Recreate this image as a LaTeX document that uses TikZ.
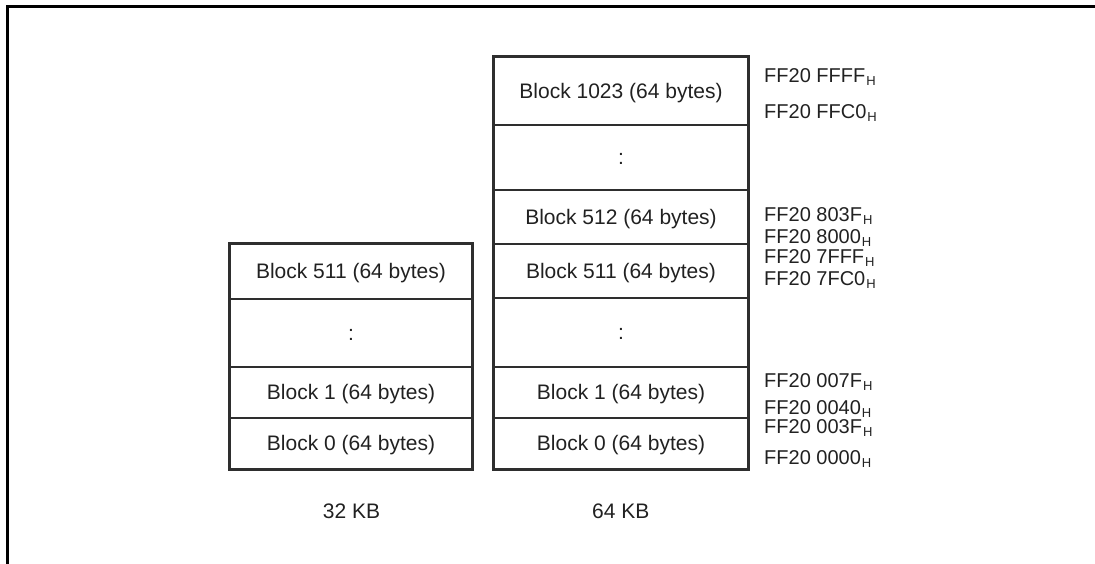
\documentclass[tikz,border=0pt]{standalone}
\usepackage{fontspec}
\setmainfont{Liberation Sans}
\definecolor{ink}{gray}{0.13}
\definecolor{lineink}{gray}{0.18}
\newcommand{\hexaddr}[1]{#1\kern1pt\raisebox{-3pt}{\fontsize{13}{13}\selectfont H}}
\begin{document}
\begin{tikzpicture}[x=1pt,y=-1pt,
  cell/.style={draw=lineink, line width=1.3pt, rectangle, inner sep=0pt,
    text height=14.6pt, text depth=0pt,
    font=\fontsize{21}{25}\selectfont, text=ink},
  rcell/.style={cell, minimum width=254pt},
  lcell/.style={cell, minimum width=242pt},
  outerbox/.style={draw=lineink, line width=2.5pt},
  addr/.style={anchor=base west, inner sep=0pt, text=ink, font=\fontsize{20}{24}\selectfont},
  sizelabel/.style={anchor=base, inner sep=0pt, text=ink, font=\fontsize{21}{25}\selectfont},
  framestyle/.style={draw=black, line width=3pt}]
\useasboundingbox (0,0) rectangle (1095,564);
% frame
\coordinate (ftl) at (7,7);
\coordinate (ftr) at (1096,7);
\coordinate (fbl) at (7,565);
\draw[framestyle] (ftr) -- (ftl) -- (fbl);
% right (64 KB) column
\node[rcell, minimum height=68pt] (r1023) at (621,91) {Block 1023 (64 bytes)};
\node[rcell, minimum height=65pt] (rdots1) at (621,157.5) {:};
\node[rcell, minimum height=54pt] (r512) at (621,217) {Block 512 (64 bytes)};
\node[rcell, minimum height=54pt] (r511) at (621,271) {Block 511 (64 bytes)};
\node[rcell, minimum height=69pt] (rdots2) at (621,332.5) {:};
\node[rcell, minimum height=51pt] (r1) at (621,392.5) {Block 1 (64 bytes)};
\node[rcell, minimum height=51pt] (r0) at (621,443.5) {Block 0 (64 bytes)};
\draw[outerbox] (r1023.north west) rectangle (r0.south east);
% left (32 KB) column
\node[lcell, minimum height=55pt] (l511) at (351,271.5) {Block 511 (64 bytes)};
\node[lcell, minimum height=68pt] (ldots) at (351,333) {:};
\node[lcell, minimum height=51pt] (l1) at (351,392.5) {Block 1 (64 bytes)};
\node[lcell, minimum height=51pt] (l0) at (351,443.5) {Block 0 (64 bytes)};
\draw[outerbox] (l511.north west) rectangle (l0.south east);
% addresses
\node[addr] (aFFFF) at (764,82.3) {\hexaddr{FF20 FFFF}};
\node[addr] (aFFC0) at (764,119) {\hexaddr{FF20 FFC0}};
\node[addr] (a803F) at (764,221.7) {\hexaddr{FF20 803F}};
\node[addr] (a8000) at (764,243.3) {\hexaddr{FF20 8000}};
\node[addr] (a7FFF) at (764,263.5) {\hexaddr{FF20 7FFF}};
\node[addr] (a7FC0) at (764,285) {\hexaddr{FF20 7FC0}};
\node[addr] (a007F) at (764,387.3) {\hexaddr{FF20 007F}};
\node[addr] (a0040) at (764,414) {\hexaddr{FF20 0040}};
\node[addr] (a003F) at (764,433.3) {\hexaddr{FF20 003F}};
\node[addr] (a0000) at (764,464) {\hexaddr{FF20 0000}};
% captions
\node[sizelabel] (c32) at (351.5,518.3) {32 KB};
\node[sizelabel] (c64) at (620.7,518.3) {64 KB};
\end{tikzpicture}
\end{document}
